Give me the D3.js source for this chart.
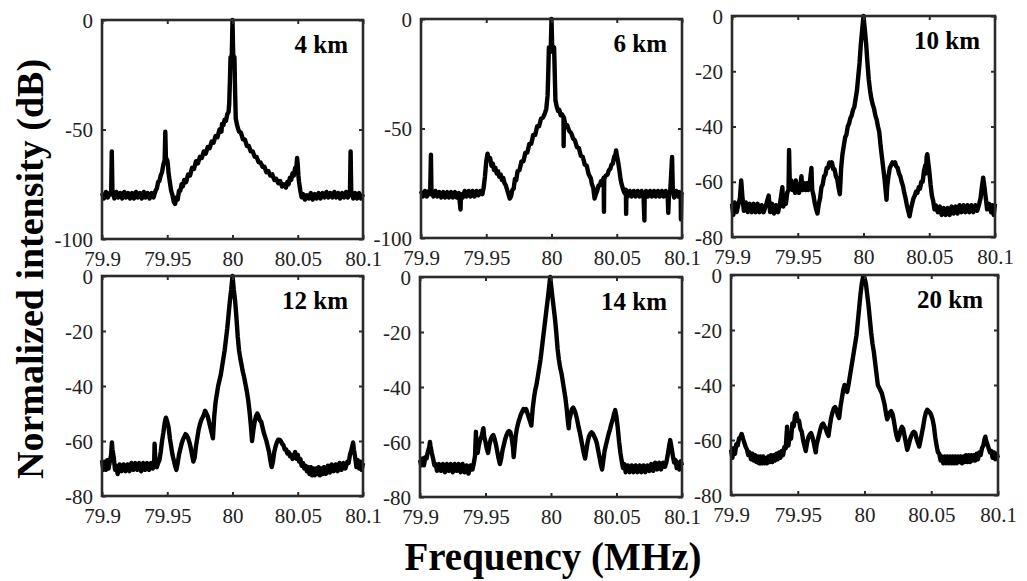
<!DOCTYPE html>
<html><head><meta charset="utf-8">
<script src="https://cdn.jsdelivr.net/npm/d3@7"></script>
<style>body{margin:0;background:#fff}</style>
</head><body><svg id="c" width="1027" height="581"></svg>
<script>
const freqTicks = [79.9, 79.95, 80, 80.05, 80.1];
const freqTickLabels = ["79.9", "79.95", "80", "80.05", "80.1"];
const dbTicksWide = [0, -50, -100];
const dbTicksNarrow = [0, -20, -40, -60, -80];
const panelNames = ["4 km", "6 km", "10 km", "12 km", "14 km", "20 km"];
const xTitle = "Frequency (MHz)";
const yTitle = "Normalized intensity (dB)";

const spec4km = [[79.900,-79],[79.9015,-81.5],[79.903,-78.5],[79.9045,-81],[79.906,-79],[79.907,-79.5],[79.9075,-60],[79.908,-78],[79.9095,-81.5],[79.911,-78.5],[79.9125,-81],[79.914,-79],[79.9155,-81.5],[79.917,-78.5],[79.9185,-81],[79.920,-79],[79.9215,-81.5],[79.923,-79],[79.9245,-81.5],[79.926,-78.5],[79.9275,-81],[79.929,-79],[79.9305,-81.5],[79.932,-78.5],[79.9335,-81],[79.935,-79],[79.9365,-81.5],[79.938,-79],[79.9395,-81],[79.941,-78],[79.942,-77],[79.943,-74],[79.944,-73.5],[79.945,-71],[79.946,-69.5],[79.947,-66],[79.948,-64],[79.9485,-51],[79.949,-63],[79.950,-64],[79.9505,-66],[79.951,-70],[79.952,-74],[79.953,-78],[79.954,-80],[79.955,-83],[79.956,-84],[79.957,-81],[79.958,-82],[79.959,-78],[79.960,-78],[79.961,-75],[79.962,-76],[79.963,-73],[79.9645,-74],[79.966,-70.5],[79.9675,-71],[79.969,-67.5],[79.9705,-68],[79.972,-64.5],[79.9735,-65.5],[79.975,-62.5],[79.9765,-63],[79.978,-60],[79.9795,-61],[79.981,-58],[79.9825,-58.5],[79.984,-55.5],[79.9855,-56],[79.987,-53],[79.9885,-53.5],[79.990,-50],[79.9915,-51],[79.992,-47.5],[79.993,-48],[79.994,-45.5],[79.995,-46],[79.996,-43],[79.997,-42],[79.9975,-38],[79.998,-28],[79.9985,-17],[79.999,-19],[79.9995,-15],[80.000,0],[80.0005,-15],[80.001,-18],[80.0015,-17],[80.002,-33],[80.0025,-45],[80.0035,-48],[80.005,-51],[80.0065,-51.5],[80.008,-54.5],[80.0095,-54.5],[80.011,-57.5],[80.0125,-57.5],[80.014,-60],[80.0155,-60],[80.017,-62.5],[80.0185,-62.5],[80.020,-65],[80.0215,-65],[80.023,-67],[80.0245,-67],[80.026,-69.5],[80.0275,-69],[80.029,-71],[80.0305,-70.5],[80.032,-73],[80.0335,-72.5],[80.035,-74.5],[80.0365,-73.5],[80.038,-76],[80.0395,-75],[80.041,-76.5],[80.042,-74],[80.043,-75],[80.044,-72],[80.045,-73],[80.046,-70],[80.047,-71],[80.048,-67.5],[80.049,-67],[80.0495,-63],[80.050,-66],[80.0505,-71],[80.051,-74],[80.052,-78],[80.053,-81],[80.054,-79.5],[80.0555,-82],[80.057,-80],[80.0585,-81.5],[80.060,-79],[80.0615,-82],[80.063,-79.5],[80.0645,-81.5],[80.066,-79],[80.0675,-81.5],[80.069,-79],[80.0705,-81],[80.072,-78.5],[80.0735,-81],[80.075,-79],[80.0765,-81],[80.078,-78.5],[80.0795,-81],[80.081,-79],[80.0825,-81.5],[80.084,-79],[80.0855,-81],[80.087,-78.5],[80.0885,-81],[80.090,-79],[80.0905,-60],[80.091,-78],[80.0925,-81.5],[80.094,-79],[80.0955,-81.5],[80.097,-79],[80.0985,-81.5],[80.100,-79.5]];

const spec6km = [[79.900,-78.5],[79.9015,-81],[79.903,-78.5],[79.9045,-81],[79.906,-78.5],[79.907,-80],[79.9076,-62],[79.908,-78],[79.9095,-81],[79.911,-78.5],[79.9125,-81],[79.914,-79],[79.9155,-81.5],[79.917,-79],[79.9185,-81.5],[79.920,-79],[79.9215,-81.5],[79.923,-79],[79.9245,-81.5],[79.926,-79],[79.9275,-81.5],[79.929,-79.5],[79.9303,-87],[79.9306,-80],[79.932,-81.5],[79.9335,-78.5],[79.935,-81],[79.9365,-78.5],[79.938,-81],[79.9395,-78.5],[79.941,-81],[79.9425,-78.5],[79.944,-80.5],[79.9455,-78.5],[79.947,-80],[79.948,-77],[79.949,-72],[79.950,-65],[79.951,-61.5],[79.952,-64],[79.953,-63.5],[79.954,-67],[79.955,-66],[79.956,-69],[79.957,-68],[79.958,-70.5],[79.959,-69.5],[79.960,-72],[79.961,-71],[79.962,-73.5],[79.963,-72.5],[79.964,-75],[79.965,-76],[79.966,-78],[79.967,-80],[79.968,-82],[79.969,-81],[79.970,-78],[79.971,-77.5],[79.972,-73],[79.973,-73.5],[79.974,-69.5],[79.9755,-69],[79.977,-65],[79.9785,-65],[79.980,-61],[79.9815,-61],[79.983,-57],[79.9845,-57],[79.986,-53],[79.9875,-53],[79.989,-49],[79.9905,-49],[79.992,-45.5],[79.9935,-45],[79.995,-43],[79.996,-41],[79.997,-35],[79.9975,-25],[79.998,-13],[79.999,-15],[79.9995,-12],[80.000,0],[80.0005,-12],[80.001,-15],[80.002,-13],[80.0025,-25],[80.003,-37],[80.004,-40],[80.005,-42],[80.006,-41.5],[80.007,-44],[80.008,-43.5],[80.0092,-45],[80.0093,-58],[80.0095,-45],[80.0105,-48],[80.012,-48.5],[80.0135,-51],[80.015,-52],[80.0165,-54.5],[80.018,-55.5],[80.0195,-58.5],[80.021,-59],[80.0225,-62.5],[80.024,-63],[80.0255,-66.5],[80.027,-67],[80.0285,-71],[80.030,-72.5],[80.031,-75.5],[80.032,-77],[80.033,-82],[80.034,-80],[80.035,-78.5],[80.036,-76],[80.037,-76],[80.038,-74],[80.039,-74],[80.040,-72.5],[80.0402,-88],[80.0404,-73],[80.0415,-71.5],[80.043,-71],[80.044,-69],[80.045,-68.5],[80.046,-66.5],[80.047,-66],[80.048,-63],[80.049,-62],[80.0495,-60],[80.050,-62],[80.051,-65],[80.052,-69],[80.053,-73.5],[80.054,-76],[80.055,-78],[80.056,-79.5],[80.057,-78],[80.0572,-89],[80.0574,-79],[80.0585,-81],[80.060,-78.5],[80.0615,-81],[80.063,-78.5],[80.0645,-81],[80.066,-78.5],[80.0675,-81],[80.069,-78.5],[80.0705,-81],[80.0712,-92],[80.0714,-80],[80.0725,-78.5],[80.074,-81],[80.0755,-78.5],[80.077,-81],[80.0785,-78.5],[80.080,-81],[80.0815,-78.5],[80.083,-81],[80.0845,-78.5],[80.086,-81],[80.0875,-78.5],[80.089,-80.5],[80.0895,-88.5],[80.090,-80],[80.091,-78.5],[80.0924,-63],[80.093,-79],[80.094,-81.5],[80.0955,-78.5],[80.097,-81],[80.098,-79],[80.099,-80.5],[80.0992,-91.5],[80.0995,-80],[80.100,-79]];

const spec10km = [[79.900,-68],[79.901,-72],[79.902,-67.5],[79.9035,-71],[79.905,-68],[79.906,-66],[79.907,-59.5],[79.908,-66],[79.909,-70.5],[79.9105,-67.5],[79.912,-71],[79.9135,-68],[79.915,-71],[79.9165,-68],[79.918,-71],[79.9195,-68],[79.921,-71],[79.9225,-68.5],[79.924,-71],[79.9255,-69],[79.9279,-65],[79.929,-71],[79.9305,-68],[79.932,-71.5],[79.9335,-68.5],[79.935,-71],[79.9365,-68],[79.9383,-62],[79.939,-69],[79.940,-66],[79.941,-68],[79.942,-64],[79.943,-63],[79.9434,-48.5],[79.944,-62],[79.945,-59.5],[79.946,-63],[79.947,-61],[79.948,-64],[79.9485,-59.5],[79.949,-63.5],[79.950,-61],[79.951,-64],[79.952,-61],[79.9528,-58],[79.9535,-63],[79.955,-60.5],[79.956,-63],[79.957,-60.5],[79.958,-63],[79.959,-61],[79.9604,-55],[79.961,-63],[79.962,-65],[79.963,-68],[79.964,-70],[79.965,-71.5],[79.966,-68],[79.967,-66],[79.968,-62],[79.969,-61],[79.970,-58],[79.971,-57.5],[79.972,-55],[79.973,-55],[79.974,-53],[79.975,-54],[79.976,-53],[79.977,-55.5],[79.978,-55.5],[79.979,-58],[79.980,-59],[79.981,-62],[79.982,-64.5],[79.9825,-60],[79.983,-55],[79.984,-50],[79.985,-47],[79.986,-44],[79.987,-43],[79.988,-40],[79.989,-39],[79.990,-37],[79.991,-36],[79.992,-34],[79.993,-33],[79.994,-30],[79.995,-27],[79.996,-22],[79.997,-17],[79.998,-10],[79.999,-5],[80.000,0],[80.001,-5],[80.002,-10],[80.003,-17],[80.004,-23],[80.005,-27],[80.006,-30],[80.007,-32],[80.008,-33.5],[80.009,-36],[80.010,-37.5],[80.011,-40],[80.012,-42],[80.013,-47],[80.014,-51],[80.015,-55],[80.016,-59],[80.017,-64],[80.0175,-66.5],[80.018,-62],[80.019,-58],[80.020,-55],[80.021,-54],[80.022,-53],[80.023,-53.5],[80.024,-53],[80.025,-54.5],[80.026,-55],[80.027,-57],[80.028,-58],[80.029,-60],[80.030,-61.5],[80.031,-64],[80.032,-66],[80.033,-68.5],[80.034,-70.5],[80.035,-72.5],[80.036,-70],[80.037,-68],[80.038,-66],[80.039,-65],[80.040,-63.5],[80.041,-64],[80.042,-62],[80.043,-62.5],[80.044,-60],[80.045,-60],[80.046,-56],[80.047,-54],[80.0475,-57],[80.048,-51],[80.0485,-50],[80.049,-52],[80.050,-56],[80.051,-61],[80.052,-65],[80.053,-67],[80.054,-70],[80.055,-68.5],[80.0565,-71],[80.058,-69],[80.0595,-72],[80.061,-69.5],[80.0625,-72],[80.064,-69.5],[80.0655,-72],[80.067,-69],[80.0685,-71.5],[80.070,-69],[80.0715,-71.5],[80.073,-68.5],[80.0745,-71],[80.076,-68.5],[80.0775,-71],[80.079,-68.5],[80.0805,-71],[80.082,-68.5],[80.0835,-71],[80.085,-68.5],[80.0865,-70.5],[80.088,-68],[80.089,-66],[80.090,-62],[80.091,-58.5],[80.092,-62],[80.093,-66],[80.094,-70],[80.0955,-68],[80.097,-71],[80.098,-68.5],[80.099,-72],[80.100,-68]];

const spec12km = [[79.900,-67],[79.901,-70.5],[79.902,-67.5],[79.903,-70.5],[79.904,-67],[79.905,-70],[79.906,-67.5],[79.907,-65],[79.9076,-60.5],[79.908,-63],[79.909,-66],[79.910,-70.5],[79.911,-69],[79.912,-72],[79.9135,-68.5],[79.915,-71],[79.9165,-68.5],[79.918,-71],[79.9195,-68.5],[79.921,-71],[79.9225,-68],[79.924,-70.5],[79.9255,-68],[79.927,-70.5],[79.9285,-68],[79.930,-71],[79.9315,-68],[79.933,-70.5],[79.9345,-68],[79.936,-70.5],[79.9375,-68],[79.939,-70],[79.940,-67],[79.9403,-61],[79.941,-68],[79.942,-69.5],[79.943,-68],[79.944,-67],[79.945,-64],[79.946,-60],[79.947,-57],[79.948,-53.5],[79.949,-51.5],[79.950,-53],[79.951,-55],[79.952,-59],[79.953,-62],[79.954,-65],[79.955,-67],[79.956,-69],[79.957,-70.5],[79.958,-68],[79.959,-65],[79.960,-63],[79.961,-61],[79.962,-59.5],[79.963,-58.5],[79.964,-57.5],[79.965,-58],[79.966,-59],[79.967,-60.5],[79.968,-62.5],[79.969,-65],[79.970,-67.5],[79.971,-66],[79.972,-62],[79.973,-59],[79.974,-56],[79.975,-54],[79.976,-52.5],[79.977,-51.5],[79.978,-50.5],[79.979,-49],[79.980,-50],[79.981,-51],[79.982,-53],[79.983,-55],[79.984,-57],[79.985,-59],[79.986,-51],[79.987,-46],[79.988,-43],[79.989,-40],[79.990,-38],[79.991,-36],[79.992,-33],[79.993,-30],[79.994,-27],[79.995,-23],[79.996,-19],[79.997,-14],[79.998,-9],[79.999,-5],[80.000,0],[80.001,-5],[80.002,-9],[80.003,-15],[80.004,-22],[80.005,-27],[80.006,-30],[80.007,-32.5],[80.008,-35],[80.009,-37],[80.010,-39.5],[80.011,-42],[80.012,-45],[80.013,-49],[80.014,-54],[80.015,-60],[80.016,-56],[80.017,-53],[80.018,-51],[80.019,-50],[80.020,-51],[80.021,-52.5],[80.022,-53],[80.023,-55],[80.024,-57],[80.025,-58.5],[80.026,-60],[80.027,-62],[80.028,-64],[80.029,-67],[80.030,-69.5],[80.031,-67.5],[80.032,-64],[80.033,-62],[80.034,-60.5],[80.035,-59.5],[80.036,-59.5],[80.037,-60],[80.038,-61],[80.039,-61.5],[80.040,-63],[80.041,-63],[80.042,-64.5],[80.043,-64],[80.044,-65.5],[80.045,-65],[80.046,-66.5],[80.047,-65.5],[80.048,-64],[80.049,-66.5],[80.050,-65],[80.051,-67.5],[80.052,-66.5],[80.053,-69],[80.054,-68],[80.055,-70],[80.056,-69],[80.057,-71],[80.058,-69.5],[80.059,-72],[80.060,-69.5],[80.061,-72.5],[80.062,-70],[80.063,-72.5],[80.064,-70],[80.065,-72],[80.066,-69.5],[80.067,-72.5],[80.068,-70],[80.069,-72],[80.070,-69.5],[80.0715,-72],[80.073,-69],[80.0745,-71.5],[80.076,-68.5],[80.0775,-71],[80.079,-68.5],[80.0805,-71],[80.082,-68],[80.0835,-70.5],[80.085,-68],[80.0865,-70],[80.088,-67.5],[80.089,-68],[80.090,-65],[80.091,-63.5],[80.0924,-60.5],[80.093,-63],[80.094,-66],[80.095,-69.5],[80.096,-67],[80.097,-70],[80.098,-67.5],[80.099,-70.5],[80.100,-68]];

const spec14km = [[79.900,-66.5],[79.901,-68.5],[79.902,-66],[79.903,-68.5],[79.904,-65.5],[79.905,-66],[79.906,-63.5],[79.907,-62],[79.9076,-60],[79.908,-61.5],[79.909,-64],[79.910,-66],[79.911,-68.5],[79.912,-68],[79.913,-70.5],[79.9145,-68],[79.916,-70.5],[79.9175,-68],[79.919,-71],[79.9205,-68],[79.922,-70.5],[79.9235,-68],[79.925,-71],[79.9265,-68],[79.928,-70.5],[79.9295,-68],[79.931,-71],[79.9325,-68],[79.934,-71],[79.9355,-68.5],[79.937,-71.5],[79.9385,-68.5],[79.940,-70],[79.941,-68],[79.942,-65],[79.9427,-56.3],[79.943,-61],[79.944,-64],[79.945,-61],[79.946,-59],[79.947,-58],[79.9484,-55],[79.949,-58],[79.950,-60],[79.951,-62.5],[79.952,-64],[79.953,-61],[79.954,-59],[79.955,-58],[79.956,-57.5],[79.957,-59],[79.958,-61],[79.959,-63.5],[79.960,-66],[79.961,-68],[79.962,-66],[79.963,-63],[79.964,-61],[79.965,-59],[79.966,-57.5],[79.967,-56.5],[79.968,-56],[79.969,-56.5],[79.970,-58.5],[79.971,-62],[79.9715,-65.5],[79.972,-63],[79.973,-58],[79.974,-55],[79.975,-53],[79.976,-51.5],[79.977,-50],[79.978,-49],[79.979,-48],[79.980,-48.5],[79.981,-48],[79.982,-49.5],[79.983,-51],[79.984,-52.5],[79.985,-54],[79.986,-48],[79.987,-44],[79.988,-41],[79.989,-39],[79.990,-36],[79.991,-33],[79.992,-30],[79.993,-26],[79.994,-22],[79.995,-18],[79.996,-14],[79.997,-10],[79.998,-6],[79.9994,0],[80.001,-7],[80.002,-11],[80.003,-15],[80.004,-20],[80.005,-26],[80.006,-30],[80.007,-33],[80.008,-35],[80.009,-38],[80.010,-41],[80.011,-44],[80.012,-48],[80.013,-53],[80.0135,-55],[80.014,-52],[80.015,-50],[80.016,-48],[80.017,-47.5],[80.018,-48.5],[80.019,-50],[80.020,-52],[80.021,-54.5],[80.022,-56.5],[80.023,-59],[80.024,-61.5],[80.025,-64],[80.026,-66],[80.027,-63],[80.028,-60],[80.029,-58],[80.030,-57],[80.031,-56.5],[80.032,-57],[80.033,-58],[80.034,-59],[80.035,-60.5],[80.036,-63],[80.037,-65.5],[80.038,-68],[80.039,-70],[80.040,-66.5],[80.041,-63],[80.042,-61],[80.043,-59],[80.044,-57],[80.045,-55.5],[80.046,-53.5],[80.047,-52],[80.048,-50],[80.049,-48.4],[80.050,-51],[80.051,-55],[80.052,-60],[80.053,-64],[80.054,-67],[80.055,-69.5],[80.056,-68],[80.057,-71],[80.0585,-68.5],[80.060,-71],[80.0615,-68.5],[80.063,-71],[80.0645,-68.5],[80.066,-71],[80.0675,-68.5],[80.069,-71],[80.0705,-68.5],[80.072,-71],[80.0735,-68.5],[80.075,-70.5],[80.0765,-68],[80.078,-70.5],[80.0795,-67.5],[80.081,-70],[80.0825,-67.5],[80.084,-70],[80.0855,-67.5],[80.087,-69],[80.088,-67.5],[80.089,-65],[80.090,-62],[80.091,-59.3],[80.092,-62],[80.093,-65],[80.094,-67.5],[80.095,-66.5],[80.096,-69.5],[80.097,-67.5],[80.098,-70],[80.099,-67],[80.100,-68.5]];

const spec20km = [[79.900,-63.5],[79.901,-66.5],[79.902,-63],[79.903,-65],[79.904,-61.5],[79.905,-62],[79.906,-59.5],[79.907,-59],[79.908,-57.8],[79.909,-59.5],[79.910,-61],[79.911,-62.5],[79.912,-63.5],[79.913,-65.5],[79.914,-64.5],[79.915,-67],[79.916,-65],[79.917,-67.5],[79.918,-65.5],[79.919,-68],[79.920,-66],[79.921,-68.5],[79.922,-66],[79.923,-68.5],[79.924,-66],[79.925,-68.5],[79.926,-66.5],[79.927,-68.5],[79.928,-66],[79.929,-68],[79.930,-65.5],[79.931,-68],[79.932,-65.5],[79.933,-67.5],[79.934,-65],[79.935,-67],[79.936,-64.5],[79.937,-66.5],[79.938,-64],[79.939,-65.5],[79.940,-62.5],[79.941,-63],[79.942,-55.2],[79.9425,-61],[79.943,-62],[79.944,-58],[79.945,-59.5],[79.946,-54],[79.947,-55],[79.948,-51],[79.949,-50.3],[79.950,-53],[79.951,-53],[79.952,-56],[79.953,-57],[79.954,-60],[79.955,-62],[79.956,-64],[79.957,-61],[79.958,-59],[79.959,-58],[79.960,-57.5],[79.961,-59],[79.962,-61],[79.963,-63.5],[79.9635,-64.5],[79.964,-62],[79.965,-60],[79.966,-58],[79.967,-56],[79.968,-54.5],[79.969,-54],[79.970,-55],[79.971,-56],[79.972,-57.5],[79.973,-58.5],[79.974,-55],[79.975,-52],[79.976,-50],[79.977,-48.5],[79.978,-48],[79.979,-49],[79.980,-51],[79.981,-52],[79.982,-48],[79.983,-45],[79.984,-42],[79.985,-40],[79.986,-41],[79.987,-42.5],[79.988,-40],[79.989,-37],[79.990,-34],[79.991,-31],[79.992,-28],[79.993,-25],[79.994,-22],[79.995,-17],[79.996,-12],[79.997,-7],[79.998,-3],[79.999,-0.6],[80.000,-1],[80.001,-3],[80.002,-7],[80.003,-11],[80.004,-16],[80.005,-21],[80.006,-25],[80.007,-28],[80.008,-32],[80.009,-36],[80.010,-40],[80.011,-41],[80.012,-42],[80.013,-43],[80.014,-45],[80.015,-47],[80.016,-50],[80.017,-52.5],[80.018,-51.5],[80.019,-50],[80.020,-49.5],[80.021,-50.5],[80.022,-53],[80.023,-56],[80.024,-58.5],[80.025,-60],[80.026,-58.5],[80.027,-56.5],[80.028,-55.2],[80.029,-56],[80.030,-58.5],[80.031,-61],[80.032,-63.6],[80.033,-62],[80.034,-60],[80.035,-58.5],[80.036,-57.5],[80.037,-57],[80.038,-57.5],[80.039,-59.5],[80.040,-61],[80.041,-62.4],[80.042,-60],[80.043,-57.5],[80.044,-55],[80.045,-52],[80.046,-50],[80.047,-49],[80.048,-49.5],[80.049,-50],[80.050,-51],[80.051,-52.5],[80.052,-55],[80.053,-59],[80.054,-62],[80.055,-64.5],[80.056,-65],[80.057,-67.5],[80.058,-66],[80.059,-68.5],[80.060,-66],[80.061,-68.5],[80.062,-66],[80.063,-68.5],[80.064,-66],[80.065,-68.5],[80.066,-66],[80.067,-68.5],[80.068,-66],[80.069,-68.5],[80.070,-66],[80.071,-68],[80.072,-66],[80.073,-68.5],[80.074,-66],[80.075,-68],[80.076,-65.5],[80.077,-68],[80.078,-65.5],[80.079,-68],[80.080,-65.5],[80.081,-67.5],[80.082,-65.5],[80.083,-67.5],[80.084,-65],[80.085,-67],[80.086,-64.5],[80.087,-65.5],[80.088,-63],[80.089,-62],[80.090,-59.5],[80.0905,-58.8],[80.091,-60],[80.092,-61.5],[80.093,-63],[80.094,-64.5],[80.095,-64],[80.096,-66.5],[80.097,-64.5],[80.098,-67],[80.099,-65],[80.100,-66.5]];

const spectra = [spec4km, spec6km, spec10km, spec12km, spec14km, spec20km];
const dbRanges = [[-100, 0], [-100, 0], [-80, 0], [-80, 0], [-80, 0], [-80, 0]];
const dbTickSets = [dbTicksWide, dbTicksWide, dbTicksNarrow, dbTicksNarrow, dbTicksNarrow, dbTicksNarrow];

// layout (pixel boxes of each panel)
const boxes = [
  {x0: 102, x1: 363, y0: 20, y1: 239},
  {x0: 421, x1: 682, y0: 19, y1: 238},
  {x0: 732, x1: 995, y0: 16, y1: 237},
  {x0: 102, x1: 363, y0: 276, y1: 496},
  {x0: 420, x1: 682, y0: 277, y1: 497},
  {x0: 731, x1: 998, y0: 275, y1: 495}
];

const svg = d3.select("#c");
const serif = "'Liberation Serif','Times New Roman',serif";
const frameColor = "#2b2b2b";

boxes.forEach((b, i) => {
  const x = d3.scaleLinear().domain([79.9, 80.1]).range([b.x0, b.x1]);
  const y = d3.scaleLinear().domain(dbRanges[i]).range([b.y1, b.y0]);
  const g = svg.append("g");

  const line = d3.line().x(d => x(d[0])).y(d => y(d[1]));
  g.append("path").datum(spectra[i])
    .attr("d", line).attr("fill", "none").attr("stroke", "#000")
    .attr("stroke-width", 4.4).attr("stroke-linejoin", "round");

  const fmt = d => freqTickLabels[freqTicks.indexOf(d)];
  const ax = g.append("g").attr("transform", `translate(0,${b.y1})`)
    .call(d3.axisBottom(x).tickValues(freqTicks).tickFormat(fmt).tickSize(-4).tickPadding(12));
  const axt = g.append("g").attr("transform", `translate(0,${b.y0})`)
    .call(d3.axisTop(x).tickValues(freqTicks).tickFormat("").tickSize(-4));
  const ay = g.append("g").attr("transform", `translate(${b.x0},0)`)
    .call(d3.axisLeft(y).tickValues(dbTickSets[i]).tickFormat(d => String(d)).tickSize(-4).tickPadding(9));
  const ayr = g.append("g").attr("transform", `translate(${b.x1},0)`)
    .call(d3.axisRight(y).tickValues(dbTickSets[i]).tickFormat("").tickSize(-4));
  [ax, axt, ay, ayr].forEach(a => {
    a.attr("font-family", serif).attr("font-size", 21);
    a.select(".domain").remove();
    a.selectAll("line").attr("stroke", frameColor).attr("stroke-width", 2);
    a.selectAll("text").attr("font-family", serif).attr("font-size", 21).attr("fill", "#222");
  });
  ay.selectAll("text").attr("dy", "0.34em");

  g.append("rect").attr("x", b.x0).attr("y", b.y0)
    .attr("width", b.x1 - b.x0).attr("height", b.y1 - b.y0)
    .attr("fill", "none").attr("stroke", frameColor).attr("stroke-width", 2.6);

  g.append("text").attr("x", b.x1 - 15).attr("y", b.y0 + 33)
    .attr("text-anchor", "end").attr("font-family", serif).attr("font-weight", "bold")
    .attr("font-size", 25).attr("fill", "#000").text(panelNames[i]);
});

svg.append("text").attr("x", 553).attr("y", 570).attr("text-anchor", "middle")
  .attr("font-family", serif).attr("font-weight", "bold").attr("font-size", 39)
  .attr("fill", "#000").text(xTitle);

svg.append("text").attr("transform", "translate(43,269) rotate(-90)").attr("text-anchor", "middle")
  .attr("font-family", serif).attr("font-weight", "bold").attr("font-size", 38)
  .attr("fill", "#000").text(yTitle);
</script>
</body></html>
